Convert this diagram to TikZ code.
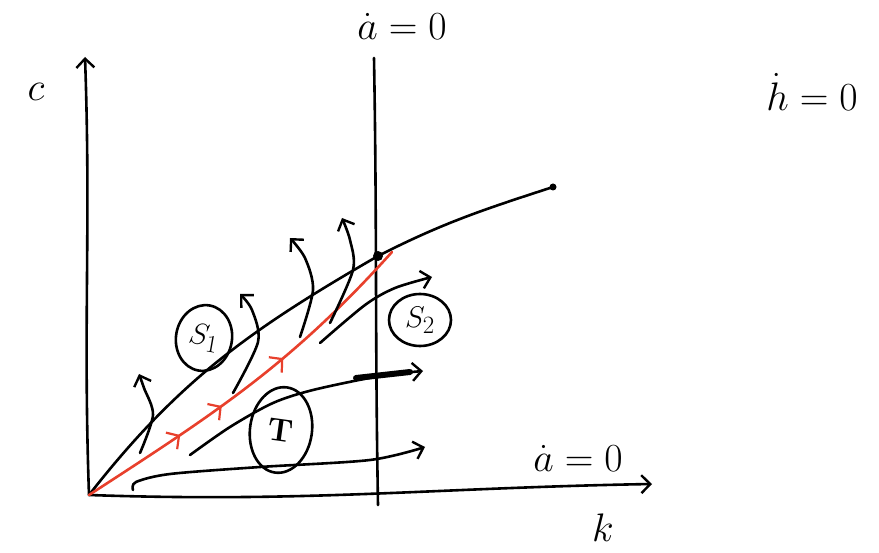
\documentclass[tikz,border=0pt]{standalone}
\usepackage{amsmath}
\usetikzlibrary{arrows.meta,positioning,calc,shapes.geometric,decorations.markings}
\definecolor{rojo}{HTML}{E8402C}

\begin{document}
\begin{tikzpicture}[x=1pt, y=-1pt,
  trazo/.style={line width=2.6pt, line cap=round, line join=round},
  flecha/.style={trazo, -{Straight Barb[length=9pt, width=18pt, line width=2.4pt]}},
  etiq/.style={font=\Huge, scale=1.6, inner sep=1pt},
  globo/.style={draw, trazo, ellipse, inner sep=0pt, font=\Huge},
  silla/.style={trazo, color=rojo,
    decoration={markings,
      mark=at position 0.28 with {\arrow{Straight Barb[length=9pt, width=20pt, line width=2.2pt]}},
      mark=at position 0.41 with {\arrow{Straight Barb[length=9pt, width=20pt, line width=2.2pt]}},
      mark=at position 0.61 with {\arrow{Straight Barb[length=9pt, width=20pt, line width=2.2pt]}}},
    postaction={decorate}}
]
  \useasboundingbox (0,0) rectangle (879,553);

  % puntos base
  \coordinate (O) at (89,495);
  \coordinate (ytop) at (85,57);
  \coordinate (xend) at (652,484);
  \coordinate (vtop) at (374,58);
  \coordinate (vbot) at (378,505);
  \coordinate (E) at (378,256);
  \coordinate (kend) at (553,187);

  % etiquetas
  \node[etiq] (lc) at (36,92) {$c$};
  \node[etiq] (lk) at (603,528) {$k$};
  \node[etiq] (la) at (402,26) {$\dot a = 0$};
  \node[etiq] (lh) at (812,92) {$\dot h = 0$};
  \node[etiq] (la2) at (578,458) {$\dot a = 0$};

  % ejes
  \draw[flecha] (O) to[out=92,in=-88] (ytop);
  \draw[flecha] (O) to[out=-2,in=181] (xend);
  \draw[trazo] (vtop) to[out=-89,in=91] (vbot);

  % curva kdot = 0
  \draw[trazo] (O) to[out=52,in=210] (E) to[out=27,in=198] (kend);
  \fill (kend) circle (3.5);
  \fill (E) circle (5);

  % senda de silla
  \draw[silla] (O) to[out=33,in=228] (392,252);

  % trayectorias hacia arriba
  \draw[flecha] plot[smooth] coordinates {(140,453) (153,415) (144,388) (139,374)};
  \draw[flecha] plot[smooth] coordinates {(233,393) (258,342) (252,310) (240,294)};
  \draw[flecha] plot[smooth] coordinates {(300,337) (313,290) (305,258) (290,238)};
  \draw[flecha] plot[smooth] coordinates {(330,323) (353,270) (350,240) (342,218)};

  % trayectorias hacia la derecha
  \draw[flecha] plot[smooth] coordinates {(320,343) (365,305) (395,288) (432,277)};
  \draw[flecha] plot[smooth] coordinates {(190,455) (230,427) (273,403) (313,390) (380,376) (423,371)};
  \draw[trazo, line width=6pt] (356,378) -- (410,372);
  \draw[flecha] plot[smooth] coordinates {(133,490) (136,482) (170,474) (260,467) (370,460) (425,447)};

  % regiones
  \node[globo, minimum width=56pt, minimum height=66pt, rotate=-10] (s1) at (204,338) {\scalebox{1.2}{$S_1$}};
  \node[globo, minimum width=62pt, minimum height=52pt] (s2) at (420,320) {\scalebox{1.2}{$S_2$}};
  \node[globo, minimum width=62pt, minimum height=86pt, rotate=-8] (t) at (281,430) {\scalebox{1.3}{\bfseries T}};
\end{tikzpicture}
\end{document}
